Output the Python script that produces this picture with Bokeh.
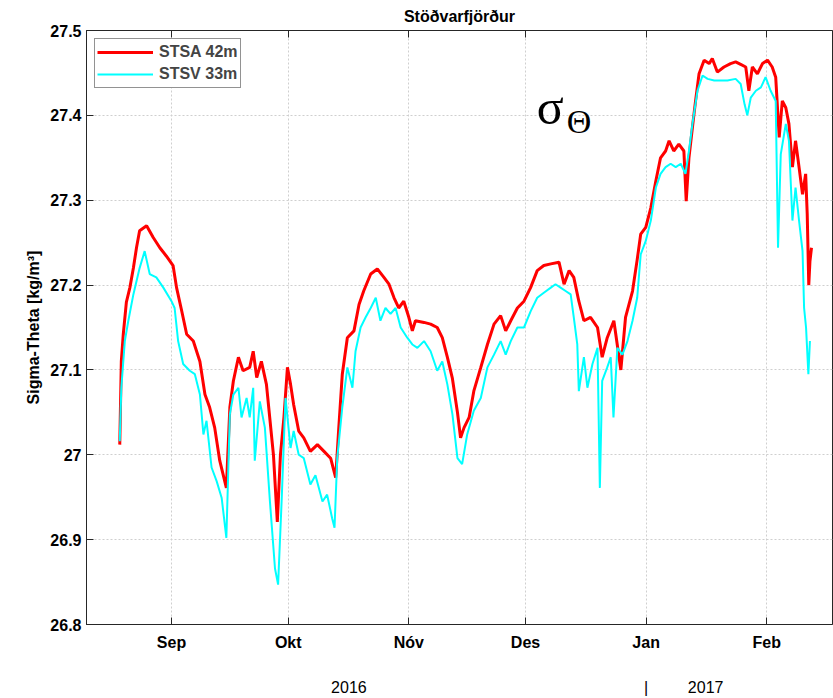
from bokeh.plotting import figure
from bokeh.models import Range1d, FixedTicker, LinearAxis, Label
from bokeh.embed import file_html
from bokeh.resources import INLINE

# x = days since 2016-08-01
stsa_day = [17.7, 18.1, 18.6, 19.4, 20.3, 21.2, 22.0, 22.8, 24.6, 26.3, 28.0, 29.7, 31.4, 32.3, 33.6, 34.9,
            36.6, 38.3, 39.6, 40.8, 42.1, 43.4, 45.1, 46.0, 46.9, 48.2, 49.4, 51.1, 52.0, 52.9, 54.1, 55.4,
            57.2, 58.2, 59.0, 59.9, 60.8, 61.6, 62.4, 63.7, 65.0, 66.7, 68.5, 70.2, 71.9, 73.2, 74.0, 74.9,
            76.2, 77.9, 79.2, 80.4, 82.2, 83.9, 85.6, 86.9, 88.2, 89.4, 90.7, 92.0, 92.9, 93.7, 95.9, 97.6,
            99.3, 100.6, 101.9, 103.2, 104.5, 105.3, 106.2, 107.5, 108.7, 110.5, 112.2, 113.9, 115.6, 116.9,
            118.2, 119.9, 121.6, 123.3, 125.0, 126.7, 128.5, 130.6, 131.9, 133.2, 134.4, 135.7, 137.0, 138.7,
            140.5, 141.7, 143.0, 144.7, 146.5, 147.7, 149.5, 150.7, 151.6, 152.9, 154.2, 155.5, 156.7, 158.0,
            158.9, 160.1, 161.4, 162.7, 163.3, 164.0, 164.9, 165.7, 166.6, 167.9, 169.2, 170.0, 171.3, 173.0,
            174.7, 176.0, 177.3, 178.6, 179.4, 180.3, 181.6, 182.9, 184.2, 185.4, 186.3, 187.2, 188.0, 188.9,
            189.7, 190.6, 191.4, 192.3, 193.2, 194.0, 194.4, 194.8, 195.1, 195.5]
stsa_sigma = [27.012, 27.11, 27.142, 27.18, 27.197, 27.22, 27.244, 27.264, 27.27, 27.256, 27.244, 27.234, 27.223,
              27.197, 27.17, 27.142, 27.134, 27.11, 27.071, 27.056, 27.032, 26.993, 26.961, 27.056, 27.087,
              27.115, 27.099, 27.103, 27.122, 27.091, 27.11, 27.083, 27.0, 26.921, 27.0, 27.044, 27.103, 27.083,
              27.059, 27.028, 27.02, 27.004, 27.012, 27.004, 26.996, 26.973, 27.032, 27.095, 27.138, 27.146,
              27.177, 27.193, 27.213, 27.219, 27.209, 27.201, 27.185, 27.173, 27.181, 27.162, 27.146, 27.158,
              27.156, 27.154, 27.150, 27.138, 27.115, 27.09, 27.05, 27.02, 27.032, 27.044, 27.075, 27.103,
              27.130, 27.154, 27.164, 27.146, 27.158, 27.173, 27.181, 27.197, 27.217, 27.223, 27.225, 27.227,
              27.201, 27.217, 27.209, 27.181, 27.158, 27.162, 27.150, 27.115, 27.138, 27.158, 27.10, 27.162,
              27.193, 27.23, 27.260, 27.268, 27.291, 27.323, 27.350, 27.358, 27.370, 27.358, 27.366, 27.358,
              27.299, 27.350, 27.386, 27.417, 27.449, 27.465, 27.461, 27.467, 27.451, 27.457, 27.461, 27.463,
              27.460, 27.457, 27.429, 27.457, 27.449, 27.461, 27.465, 27.457, 27.445, 27.374, 27.417, 27.409,
              27.390, 27.339, 27.370, 27.339, 27.307, 27.331, 27.284, 27.20, 27.228, 27.244]

stsv_day = [17.7, 18.1, 19.0, 19.9, 21.2, 22.8, 24.1, 25.4, 27.1, 28.9, 31.0, 31.8, 32.7, 34.0, 35.7, 37.0,
            38.3, 39.2, 40.0, 41.3, 42.6, 43.9, 45.1, 46.0, 46.9, 48.2, 49.0, 50.3, 51.1, 52.0, 52.4, 53.7,
            55.0, 56.3, 57.6, 58.4, 59.3, 60.3, 61.6, 62.4, 63.7, 65.0, 66.7, 68.0, 69.8, 71.0, 72.3, 72.9,
            73.6, 74.9, 76.2, 77.5, 78.3, 79.6, 80.9, 82.2, 83.5, 84.7, 86.0, 87.3, 88.6, 89.9, 91.6, 92.9,
            94.2, 95.9, 97.6, 99.3, 100.6, 101.9, 103.2, 104.5, 105.7, 107.0, 108.7, 110.5, 112.2, 113.9,
            115.6, 116.9, 118.2, 119.9, 121.6, 123.3, 125.0, 126.7, 128.5, 129.7, 131.0, 132.3, 133.6, 134.4,
            135.3, 135.7, 137.0, 137.9, 139.2, 140.5, 141.1, 141.7, 143.0, 143.9, 144.6, 145.6, 146.9, 148.2,
            149.5, 150.7, 151.6, 152.9, 154.2, 155.5, 156.7, 158.0, 159.3, 160.6, 161.9, 163.1, 164.0, 164.9,
            166.2, 167.5, 168.8, 170.5, 172.2, 173.9, 176.0, 177.3, 178.3, 179.0, 179.9, 181.2, 182.5, 183.7,
            185.0, 186.3, 186.9, 187.6, 188.9, 189.7, 190.6, 191.4, 192.3, 193.2, 193.6, 194.1, 194.7, 195.1]
stsv_sigma = [27.016, 27.079, 27.134, 27.158, 27.189, 27.220, 27.240, 27.213, 27.209, 27.197, 27.181, 27.173,
              27.134, 27.107, 27.099, 27.095, 27.071, 27.024, 27.040, 26.985, 26.969, 26.949, 26.902, 27.048,
              27.071, 27.079, 27.044, 27.067, 27.044, 27.079, 26.993, 27.063, 27.032, 26.945, 26.866, 26.847,
              26.945, 27.067, 27.008, 27.028, 27.0, 26.996, 26.965, 26.976, 26.945, 26.953, 26.925, 26.914,
              26.996, 27.056, 27.103, 27.079, 27.122, 27.150, 27.162, 27.173, 27.185, 27.158, 27.173, 27.166,
              27.173, 27.150, 27.138, 27.130, 27.126, 27.134, 27.122, 27.099, 27.110, 27.083, 27.048, 26.996,
              26.989, 27.024, 27.052, 27.067, 27.103, 27.118, 27.134, 27.118, 27.134, 27.150, 27.150, 27.169,
              27.185, 27.191, 27.197, 27.201, 27.197, 27.193, 27.189, 27.162, 27.130, 27.075, 27.115, 27.079,
              27.107, 27.126, 26.961, 27.087, 27.103, 27.115, 27.044, 27.126, 27.118, 27.134, 27.158, 27.185,
              27.236, 27.252, 27.276, 27.315, 27.331, 27.339, 27.343, 27.339, 27.343, 27.331, 27.358, 27.390,
              27.429, 27.447, 27.443, 27.441, 27.441, 27.441, 27.443, 27.437, 27.413, 27.400, 27.421, 27.429,
              27.433, 27.445, 27.429, 27.417, 27.244, 27.354, 27.390, 27.370, 27.276, 27.315, 27.276, 27.240,
              27.173, 27.150, 27.095, 27.134]

month_ticks = [31, 61, 92, 122, 153, 184]
month_labels = ["Sep", "Okt", "Nóv", "Des", "Jan", "Feb"]
y_tick_labels = ["26.8", "26.9", "27", "27.1", "27.2", "27.3", "27.4", "27.5"]
year_ticks = [76.6, 153, 168.3]
year_labels = ["2016", "|", "2017"]

FONT = "Liberation Sans"
AX = "#262626"

y_ticks = [float(s) for s in y_tick_labels]

p = figure(frame_width=746, frame_height=594,
           x_range=Range1d(9.15, 200.9), y_range=Range1d(26.8, 27.5),
           output_backend="svg", toolbar_location=None,
           min_border_left=86, min_border_right=1, min_border_top=29, min_border_bottom=60)
p.background_fill_color = "white"
p.border_fill_color = "white"
p.outline_line_color = AX
p.outline_line_width = 1

p.title.text = "Stöðvarfjörður"
p.title.align = "center"
p.title.text_font = FONT
p.title.text_font_size = "16px"
p.title.text_font_style = "bold"
p.title.text_color = "black"
p.title.standoff = 11
p.title.offset = 0

xt = FixedTicker(ticks=month_ticks)
yt = FixedTicker(ticks=y_ticks)

xa = p.xaxis[0]
xa.ticker = xt
xa.major_label_overrides = {t: l for t, l in zip(month_ticks, month_labels)}
ya = p.yaxis[0]
ya.ticker = yt
ya.major_label_overrides = {t: l for t, l in zip(y_ticks, y_tick_labels)}
ya.axis_label = "Sigma-Theta [kg/m³]"
ya.axis_label_text_font = FONT
ya.axis_label_text_font_size = "16px"
ya.axis_label_text_font_style = "bold"
ya.axis_label_text_color = "black"
ya.axis_label_standoff = 5

for ax in (xa, ya):
    ax.minor_tick_line_color = None
    ax.major_tick_in = 7
    ax.major_tick_out = 0
    ax.axis_line_color = AX
    ax.major_tick_line_color = AX
    ax.major_label_text_font = FONT
    ax.major_label_text_font_size = "16px"
    ax.major_label_text_font_style = "bold"
    ax.major_label_text_color = "black"
xa.major_label_standoff = 9
ya.major_label_standoff = 5

top_axis = LinearAxis(ticker=xt, major_tick_in=7, major_tick_out=0, minor_tick_line_color=None,
                      axis_line_color=AX, major_tick_line_color=AX, major_label_standoff=0,
                      major_label_text_font_size="0px",
                      major_label_overrides={t: "" for t in month_ticks})
p.add_layout(top_axis, "above")

p.xgrid.ticker = xt
p.ygrid.ticker = yt
for g in (p.xgrid, p.ygrid):
    g.grid_line_color = "#cfcfcf"
    g.grid_line_dash = "2 2"
    g.grid_line_width = 1

year_axis = LinearAxis(ticker=FixedTicker(ticks=year_ticks),
                       major_label_overrides={t: l for t, l in zip(year_ticks, year_labels)},
                       axis_line_color=None, major_tick_line_color=None, minor_tick_line_color=None,
                       major_label_standoff=19, major_label_text_font=FONT,
                       major_label_text_font_size="16px", major_label_text_color="black")
p.add_layout(year_axis, "below")

p.line(stsa_day, stsa_sigma, line_color="#ff0000", line_width=3, legend_label="STSA 42m")
p.line(stsv_day, stsv_sigma, line_color="#00ffff", line_width=2, legend_label="STSV 33m")

lg = p.legend[0]
lg.location = "top_left"
lg.margin = 8
lg.padding = 2
lg.spacing = 0
lg.glyph_width = 56
lg.glyph_height = 22
lg.label_height = 22
lg.label_standoff = 6
lg.label_text_font = FONT
lg.label_text_font_size = "16px"
lg.label_text_font_style = "bold"
lg.border_line_color = AX
lg.border_line_width = 1
lg.background_fill_alpha = 1

p.add_layout(Label(x=124.9, y=27.410, text="σ", text_font="Liberation Serif",
                   text_font_size="50px", text_color="black", text_baseline="alphabetic"))
p.add_layout(Label(x=132.6, y=27.393, text="Θ", text_font="Liberation Serif",
                   text_font_size="34px", text_color="black", text_baseline="alphabetic"))

open("out.html", "w").write(file_html(p, INLINE))
